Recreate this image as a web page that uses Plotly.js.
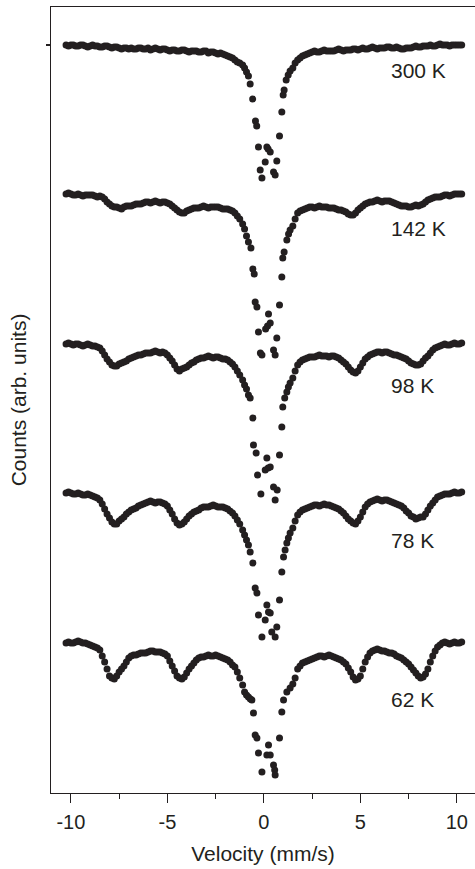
<!DOCTYPE html>
<html>
<head>
<meta charset="utf-8">
<script src="https://cdn.plot.ly/plotly-3.0.1.min.js"></script>
<style>html,body{margin:0;padding:0;background:#fff;}#chart{width:475px;height:869px;}</style>
</head>
<body>
<div id="chart"></div>
<script>
// Velocity channels of the flat wings (mm/s)
const velL = [-10.25,-10,-9.75,-9.5,-9.25,-9,-8.75,-8.5,-8.25,-8,-7.75,-7.5,-7.25,-7,-6.75,-6.5,-6.25,-6,-5.75,-5.5,-5.25,-5,-4.75,-4.5,-4.25,-4,-3.75,-3.5,-3.25,-3,-2.75,-2.5,-2.25,-2,-1.75,-1.5,-1.25,-1.0];
const velL2 = [-10.125,-9.875,-9.625,-9.375,-9.125,-8.875,-8.625,-8.375,-8.125,-7.875,-7.625,-7.375,-7.125,-6.875,-6.625,-6.375,-6.125,-5.875,-5.625,-5.375,-5.125,-4.875,-4.625,-4.375,-4.125,-3.875,-3.625,-3.375,-3.125,-2.875,-2.625,-2.375,-2.125,-1.875,-1.625,-1.375];
const velR = [1.5,1.75,2,2.25,2.5,2.75,3,3.25,3.5,3.75,4,4.25,4.5,4.75,5,5.25,5.5,5.75,6,6.25,6.5,6.75,7,7.25,7.5,7.75,8,8.25,8.5,8.75,9,9.25,9.5,9.75,10,10.25];
const velR2 = [1.875,2.125,2.375,2.625,2.875,3.125,3.375,3.625,3.875,4.125,4.375,4.625,4.875,5.125,5.375,5.625,5.875,6.125,6.375,6.625,6.875,7.125,7.375,7.625,7.875,8.125,8.375,8.625,8.875,9.125,9.375,9.625,9.875,10.125];

// Axis ticks
const xTickVals = [-10,-5,0,5,10];
const xTickText = ['-10','-5','0','5','10'];
const xMinorVals = [-7.5,-2.5,2.5,7.5];

// Temperatures (labels)
const labels = ["300 K","142 K","98 K","78 K","62 K"];
const labelY = [723, 565, 408, 253, 94];

// 300 K (counts, arb. units, vertical offset included)
const c300L = [748,748,747,748,747,747,747,746,747,746,746,745,745,744,744,745,744,745,744,744,744,743,743,742,743,742,742,742,741,742,741,740,740,738,736,733,730,725];
const c300L2 = [747,748,747,748,746,748,747,746,747,745,746,744,745,745,744,745,744,743,745,743,744,742,743,742,743,741,742,741,742,740,741,739,739,737,735,731];
const v300C = [-1.1,-0.9,-0.8,-0.71,-0.58,-0.435,-0.37,-0.28,-0.19,-0.10,0.07,0.155,0.22,0.33,0.50,0.585,0.67,0.81,0.93,1.0,1.05,1.155,1.26,1.36,1.62];
const c300C = [728,721,717,709,694,672,667,646,623,615,631,646,644,641,621,618,632,657,681,698,703,713,718,722,730];
const c300R = [725,733,737,739,741,741,742,742,742,743,743,743,743,744,744,744,745,745,745,745,746,745,745,744,745,746,746,747,747,747,748,748,748,748,748,748];
const c300R2 = [735,738,740,742,741,743,742,742,744,742,743,744,743,745,744,746,744,745,746,745,746,744,745,745,747,746,747,748,747,749,748,747,748,748];

// 142 K
const c142L = [599,599,598,598,598,598,597,597,594,589,586,585,586,587,588,589,590,591,591,591,591,590,587,583,580,582,584,585,586,586,586,586,585,584,583,580,574,564];
const c142L2 = [600,598,599,597,598,598,596,596,591,587,586,584,587,587,589,589,591,590,592,590,591,589,585,581,580,583,585,585,587,585,586,586,584,584,582,577];
const v142C = [-1.1,-0.9,-0.8,-0.67,-0.57,-0.50,-0.45,-0.36,-0.28,-0.18,-0.10,0.09,0.19,0.24,0.33,0.50,0.585,0.67,0.81,0.93,0.98,1.05,1.19,1.28,1.36,1.62];
const c142C = [569,557,551,545,524,519,491,486,461,440,438,464,467,479,470,443,438,455,488,516,535,541,553,559,563,574];
const c142R = [567,580,583,585,586,586,586,586,585,584,583,581,578,580,585,589,591,592,592,592,592,590,588,587,586,587,587,589,593,595,596,597,598,598,599,599];
const c142R2 = [582,584,586,585,587,586,585,585,583,582,579,578,583,587,590,591,593,591,592,591,589,587,587,586,588,588,591,594,596,596,598,597,599,599];

// 98 K
const c98L = [449,449,449,448,448,448,447,445,438,431,427,429,431,434,436,438,439,440,441,441,441,438,432,424,424,426,430,433,435,436,436,436,435,434,431,426,418,408];
const c98L2 = [450,448,449,447,449,447,446,442,434,428,427,430,432,435,437,438,440,440,442,440,440,435,428,422,425,428,431,434,435,437,435,436,434,433,429,422];
const v98C = [-1.1,-0.9,-0.8,-0.71,-0.57,-0.54,-0.40,-0.33,-0.155,0.07,0.155,0.22,0.33,0.50,0.585,0.69,0.81,0.93,0.98,1.08,1.19,1.27,1.36,1.62];
const c98C = [413,404,398,395,375,348,340,318,299,323,335,325,326,306,293,303,338,366,386,395,401,406,410,422];
const c98R = [415,428,433,435,436,437,437,437,437,436,433,429,423,420,426,434,438,440,441,441,440,438,437,435,432,429,428,432,437,443,446,448,448,449,449,450];
const c98R2 = [431,434,436,436,438,437,436,437,435,431,426,421,422,430,436,439,441,440,441,439,438,436,434,430,428,429,435,440,445,447,449,448,450,449];

// 78 K
const c78L = [300,300,299,299,298,298,296,293,284,275,269,272,276,281,284,287,289,291,291,291,290,287,279,270,269,274,279,282,285,286,287,287,286,285,282,277,269,258];
const c78L2 = [301,299,300,298,299,297,295,289,279,271,269,274,279,283,285,288,290,292,290,291,289,283,274,268,271,277,281,283,286,286,288,286,286,284,280,273];
const v78C = [-1.1,-0.9,-0.8,-0.71,-0.57,-0.45,-0.36,-0.28,-0.10,0.07,0.155,0.24,0.33,0.41,0.585,0.67,0.81,0.93,1.02,1.10,1.19,1.27,1.36,1.62];
const c78C = [263,253,248,241,230,205,200,178,156,173,188,181,180,161,156,166,193,221,236,243,250,255,260,272];
const c78R = [265,278,283,285,287,288,288,288,287,285,282,277,272,269,276,286,291,293,293,293,292,290,288,285,280,276,275,276,283,290,296,298,299,300,300,301];
const c78R2 = [281,284,286,288,287,289,288,286,284,280,274,270,272,281,289,292,294,292,293,291,289,287,282,277,274,276,279,287,293,297,299,299,301,300];

// 62 K
const c62L = [150,150,151,151,150,148,146,143,131,117,114,121,127,135,138,139,140,141,142,141,140,137,127,117,114,120,127,133,136,137,137,138,136,134,131,126,115,101];
const c62L2 = [151,150,152,150,149,147,145,137,124,115,117,124,131,137,138,140,140,142,141,141,139,132,122,115,116,124,130,135,136,138,137,137,135,133,128,121];
const v62C = [-1.1,-0.9,-0.8,-0.7,-0.62,-0.54,-0.45,-0.36,-0.28,-0.10,0.155,0.24,0.33,0.50,0.56,0.585,0.81,0.93,1.02,1.19,1.36,1.62];
const c62C = [108,98,96,94,93,80,58,55,40,21,38,48,38,28,23,18,55,81,93,101,105,115];
const c62R = [109,124,130,132,134,136,137,137,137,135,133,129,121,113,117,131,140,143,143,142,140,139,136,133,129,123,117,116,124,137,146,150,150,150,150,151];
const c62R2 = [127,131,133,135,137,136,138,136,134,131,125,116,114,124,136,142,144,142,141,140,137,135,131,126,120,115,119,131,142,148,151,149,151,150];

const ink = '#231f20';
const font = 'Liberation Sans, Arial, Helvetica, sans-serif';

const sets = [
  [v300C, c300L, c300L2, c300C, c300R, c300R2],
  [v142C, c142L, c142L2, c142C, c142R, c142R2],
  [v98C, c98L, c98L2, c98C, c98R, c98R2],
  [v78C, c78L, c78L2, c78C, c78R, c78R2],
  [v62C, c62L, c62L2, c62C, c62R, c62R2]
];

const traces = sets.map((s, i) => ({
  type: 'scatter',
  mode: 'markers',
  name: labels[i],
  x: velL.concat(velL2, s[0], velR, velR2),
  y: s[1].concat(s[2], s[3], s[4], s[5]),
  marker: {size: 7, color: ink},
  showlegend: false,
  hoverinfo: 'x+y'
}));

const annotations = labels.map((t, i) => ({
  x: 6.49, y: labelY[i], xref: 'x', yref: 'y',
  text: t, showarrow: false, xanchor: 'left', yanchor: 'middle',
  font: {family: font, size: 21, color: ink}
}));

const layout = {
  width: 475, height: 869,
  margin: {l: 51, r: 0, t: 7, b: 76},
  paper_bgcolor: '#fff', plot_bgcolor: '#fff',
  font: {family: font, color: ink, size: 20},
  showlegend: false,
  xaxis: {
    range: [-11.03, 10.94],
    tickmode: 'array', tickvals: xTickVals, ticktext: xTickText,
    ticks: 'outside', ticklen: 9, tickwidth: 1.2, tickcolor: ink,
    ticklabelstandoff: 2,
    minor: {tickmode: 'array', tickvals: xMinorVals, ticks: 'outside', ticklen: 5, tickwidth: 1.2, tickcolor: ink, showgrid: false},
    showline: true, linecolor: ink, linewidth: 1.2, mirror: true,
    showgrid: false, zeroline: false,
    tickfont: {family: font, size: 20, color: ink},
    title: {text: 'Velocity (mm/s)', font: {family: font, size: 21, color: ink}, standoff: 14}
  },
  yaxis: {
    range: [0, 786],
    tickvals: [748],
    ticks: 'outside', ticklen: 4, tickwidth: 1.2, tickcolor: ink,
    showticklabels: false,
    showline: true, linecolor: ink, linewidth: 1.2, mirror: false,
    showgrid: false, zeroline: false,
    title: {text: 'Counts (arb. units)', font: {family: font, size: 21, color: ink}, standoff: 13}
  },
  annotations: annotations
};

Plotly.newPlot('chart', traces, layout, {displayModeBar: false, staticPlot: true});
</script>
</body>
</html>
